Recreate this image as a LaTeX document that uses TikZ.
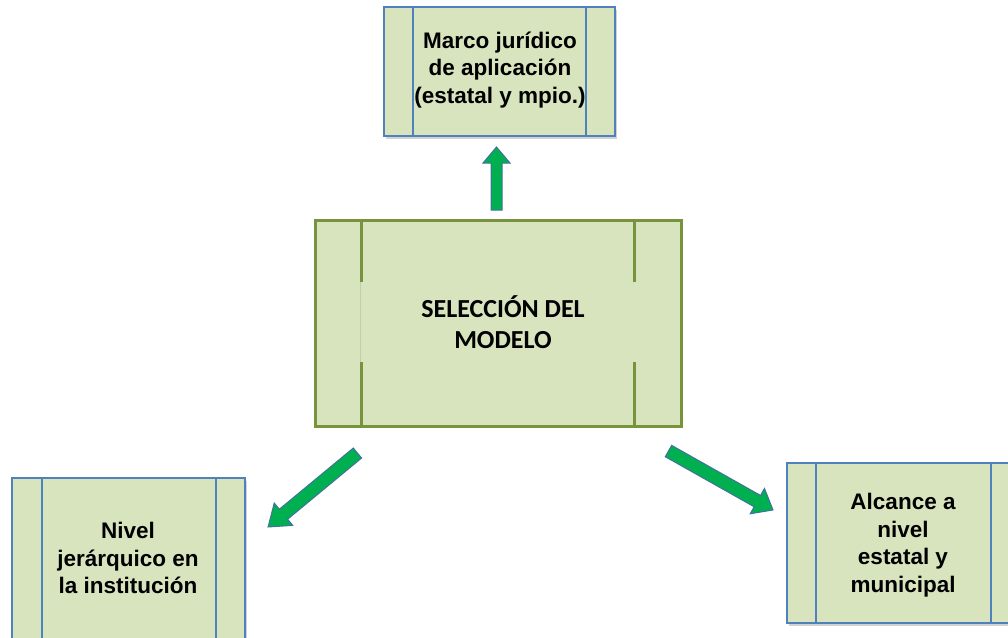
\documentclass[tikz,border=0pt]{standalone}
\usepackage{fontspec}
\setmainfont{Liberation Sans}
\newfontfamily\carlito{Carlito}
\usetikzlibrary{calc,shadows}
\definecolor{boxfill}{HTML}{D7E4BD}
\definecolor{boxblue}{HTML}{4F81BD}
\definecolor{olive}{HTML}{77933C}
\definecolor{arrowgreen}{HTML}{00B050}
\definecolor{arrowedge}{HTML}{41719C}
\tikzset{
  bluebox/.style={draw=boxblue, line width=1.4pt, fill=boxfill, inner sep=0pt, outer sep=0pt,
    drop shadow={shadow xshift=2pt, shadow yshift=-2.5pt, opacity=0.35}},
  bluebar/.style={draw=boxblue, line width=1.4pt},
  greenbox/.style={draw=olive, line width=3pt, fill=boxfill, inner sep=0pt, outer sep=0pt},
  greenbar/.style={draw=olive, line width=3pt},
  boxtext/.style={font=\fontsize{22.5}{27.5}\selectfont\bfseries, align=center, text=black},
  blockarrow/.style={fill=arrowgreen, draw=arrowedge, line width=1pt, line join=miter},
}
\begin{document}
\begin{tikzpicture}[x=1pt,y=-1pt]
\useasboundingbox (0,0) rectangle (1008,637);
\clip (0,0) rectangle (1008,637);
\fill[white] (0,0) rectangle (1008,637);

% top box
\node[bluebox, minimum width=231, minimum height=129] (marco) at (499.5,71.5) {};
\draw[bluebar] ($(marco.north west)+(29,0)$) -- ($(marco.south west)+(29,0)$);
\draw[bluebar] ($(marco.north east)+(-29,0)$) -- ($(marco.south east)+(-29,0)$);
\node[boxtext] (marcotext) at (500,70) {Marco jurídico\\de aplicación\\(estatal y mpio.)};

% centre box
\node[greenbox, minimum width=366, minimum height=206] (sel) at (498.5,323) {};
\draw[greenbar] ($(sel.north west)+(46,0)$) -- ($(sel.north west)+(46,62)$);
\draw[greenbar] ($(sel.south west)+(46,-64)$) -- ($(sel.south west)+(46,0)$);
\draw[olive!45, line width=0.6pt] ($(sel.north west)+(45,62)$) -- ($(sel.south west)+(45,-64)$);
\draw[greenbar] ($(sel.north east)+(-47,0)$) -- ($(sel.north east)+(-47,62)$);
\draw[greenbar] ($(sel.south east)+(-47,-64)$) -- ($(sel.south east)+(-47,0)$);
\node[font=\carlito\fontsize{26}{31}\selectfont\bfseries, align=center] (seltext) at (503,322) {SELECCIÓN DEL\\MODELO};

% bottom left box
\node[bluebox, minimum width=233, minimum height=180] (nivel) at (128.5,568) {};
\draw[bluebar] ($(nivel.north west)+(30,0)$) -- ($(nivel.south west)+(30,0)$);
\draw[bluebar] ($(nivel.north east)+(-29,0)$) -- ($(nivel.south east)+(-29,0)$);
\node[boxtext] (niveltext) at (128,558) {Nivel\\jerárquico en\\la institución};

% bottom right box
\node[bluebox, minimum width=233, minimum height=160] (alc) at (903.5,543) {};
\draw[bluebar] ($(alc.north west)+(29,0)$) -- ($(alc.south west)+(29,0)$);
\draw[bluebar] ($(alc.north east)+(-29,0)$) -- ($(alc.south east)+(-29,0)$);
\node[boxtext] (alctext) at (903,545) {Alcance a\\nivel\\estatal y\\municipal};

% arrows
\begin{scope}[shift={(496.5,178.5)}, rotate=90]
\draw[blockarrow] (-31.5,-5.5) -- (15.5,-5.5) -- (15.5,-13.5) -- (31.5,0) -- (15.5,13.5) -- (15.5,5.5) -- (-31.5,5.5) -- cycle;
\end{scope}
\begin{scope}[shift={(312.75,490)}, rotate=219.6]
\draw[blockarrow] (-58,-6.5) -- (38,-6.5) -- (38,-14.5) -- (58,0) -- (38,14.5) -- (38,6.5) -- (-58,6.5) -- cycle;
\end{scope}
\begin{scope}[shift={(720.75,480.5)}, rotate=-29.4]
\draw[blockarrow] (-60,-6.5) -- (42,-6.5) -- (42,-14.5) -- (60,0) -- (42,14.5) -- (42,6.5) -- (-60,6.5) -- cycle;
\end{scope}
\end{tikzpicture}
\end{document}
